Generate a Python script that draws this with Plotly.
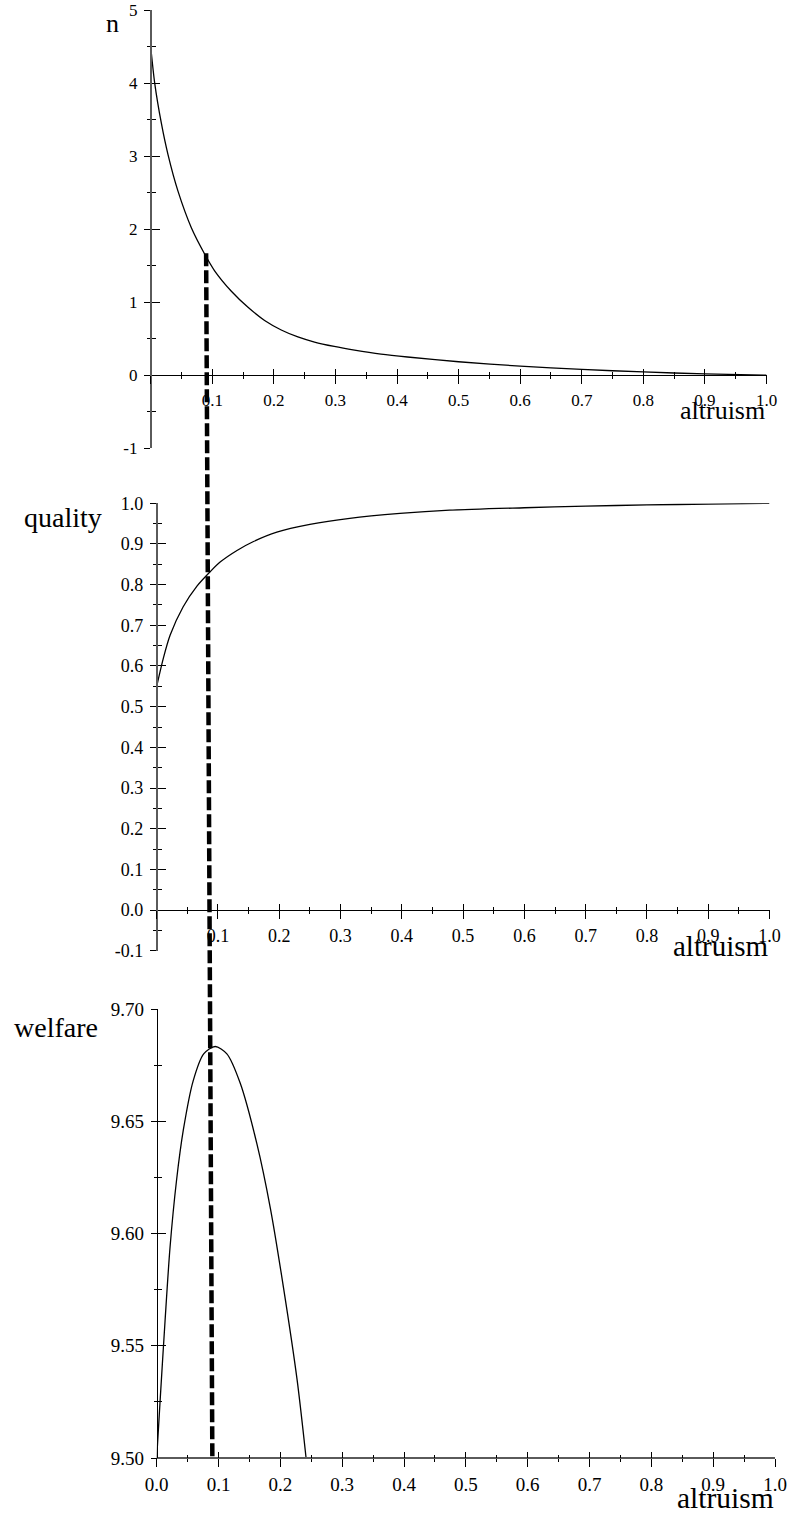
import plotly.graph_objects as go

# ---------------- data ----------------
altruism_n = [0.0, 0.0065, 0.0173, 0.0281, 0.0443, 0.066, 0.0876, 0.1038, 0.131, 0.158,
              0.185, 0.212, 0.239, 0.266, 0.298, 0.331, 0.374, 0.417, 0.5, 0.6,
              0.7, 0.8, 0.9, 1.0]
n_values = [4.5, 4.0, 3.45, 3.02, 2.52, 2.02, 1.66, 1.43, 1.15, 0.93,
            0.75, 0.62, 0.525, 0.455, 0.395, 0.345, 0.29, 0.25, 0.185, 0.125,
            0.08, 0.045, 0.018, 0.0]

altruism_q = [0.0, 0.011, 0.022, 0.043, 0.066, 0.088, 0.104, 0.131, 0.158, 0.196,
              0.25, 0.315, 0.397, 0.478, 0.6, 0.7, 0.8, 0.9, 1.0]
quality_values = [0.55, 0.62, 0.676, 0.745, 0.797, 0.833, 0.856, 0.884, 0.906, 0.929,
                  0.948, 0.963, 0.975, 0.983, 0.989, 0.993, 0.996, 0.998, 1.0]

altruism_w = [0.0, 0.0054, 0.0135, 0.0216, 0.032, 0.043, 0.059, 0.076, 0.0946, 0.1135,
              0.135, 0.162, 0.184, 0.205, 0.227, 0.2416]
welfare_values = [9.50, 9.525, 9.561, 9.594, 9.6235, 9.646, 9.668, 9.680, 9.6833, 9.680,
                  9.667, 9.640, 9.611, 9.576, 9.535, 9.50]

x_tick_vals = [0.0, 0.1, 0.2, 0.3, 0.4, 0.5, 0.6, 0.7, 0.8, 0.9, 1.0]
x_tick_text_top = ["", "0.1", "0.2", "0.3", "0.4", "0.5", "0.6", "0.7", "0.8", "0.9", "1.0"]
x_tick_text_bottom = ["0.0", "0.1", "0.2", "0.3", "0.4", "0.5", "0.6", "0.7", "0.8", "0.9", "1.0"]

n_tick_vals = [-1, 0, 1, 2, 3, 4, 5]
n_tick_text = ["-1", "0", "1", "2", "3", "4", "5"]
q_tick_vals = [-0.1, 0.0, 0.1, 0.2, 0.3, 0.4, 0.5, 0.6, 0.7, 0.8, 0.9, 1.0]
q_tick_text = ["-0.1", "0.0", "0.1", "0.2", "0.3", "0.4", "0.5", "0.6", "0.7", "0.8", "0.9", "1.0"]
w_tick_vals = [9.50, 9.55, 9.60, 9.65, 9.70]
w_tick_text = ["9.50", "9.55", "9.60", "9.65", "9.70"]

cross_altruism = 0.09   # location of the dashed vertical marker
cross_n = 1.67          # where the marker starts on the n curve

y_titles = ["n", "quality", "welfare"]
x_title = "altruism"

# ---------------- layout geometry ----------------
W, H = 790, 1517
FONT = "Liberation Serif, Times New Roman, serif"
GRAY = "#5a5a5a"


def fx(px):
    return px / W


def fy(py):
    return 1 - py / H


panels = [
    dict(xl=150.7, xr=766.5, yt=10.0, yb=448.3, yrange=[-1, 5], xat=0.0,
         ymin_d=0.5, ymin_0=0.0, tv=n_tick_vals, tt=n_tick_text, xtt=x_tick_text_top,
         fs=17, x=altruism_n, y=n_values,
         xline=("black", 1), yline=(GRAY, 1.6)),
    dict(xl=156.7, xr=769.5, yt=503.3, yb=950.7, yrange=[-0.1, 1.0], xat=0.0,
         ymin_d=0.05, ymin_0=0.0, tv=q_tick_vals, tt=q_tick_text, xtt=x_tick_text_top,
         fs=18, x=altruism_q, y=quality_values,
         xline=("black", 1), yline=(GRAY, 1.6)),
    dict(xl=156.7, xr=775.0, yt=1009.0, yb=1458.0, yrange=[9.50, 9.70], xat=9.50,
         ymin_d=0.025, ymin_0=9.50, tv=w_tick_vals, tt=w_tick_text, xtt=x_tick_text_bottom,
         fs=19, x=altruism_w, y=welfare_values,
         xline=(GRAY, 1.6), yline=("black", 1)),
]


def akey(p, k):
    return p + "axis" + ("" if k == 1 else str(k))


def aref(p, k):
    return p + ("" if k == 1 else str(k))


fig = go.Figure()
layout = {}
geo = []
for i, P in enumerate(panels):
    km, ko = 2 * i + 1, 2 * i + 2
    xdom = [fx(P["xl"]), fx(P["xr"])]
    ydom = [fy(P["yb"]), fy(P["yt"])]
    yr = P["yrange"]
    xpos = ydom[0] + (P["xat"] - yr[0]) / (yr[1] - yr[0]) * (ydom[1] - ydom[0])
    geo.append((xdom, ydom, yr))
    tf = dict(family=FONT, size=P["fs"], color="black")

    common_x = dict(domain=xdom, range=[0, 1], anchor="free", position=xpos,
                    showgrid=False, zeroline=False, tickmode="array", automargin=False,
                    tickvals=x_tick_vals, tickcolor="black", tickwidth=1, fixedrange=True)
    layout[akey("x", km)] = dict(common_x, showline=True, linecolor=P["xline"][0],
                                  linewidth=P["xline"][1],
                                  ticks="outside", ticklen=8, ticktext=P["xtt"], tickfont=tf,
                                  ticklabelstandoff=1,
                                  minor=dict(ticks="outside", ticklen=3, tickmode="linear",
                                             tick0=0, dtick=0.05, tickcolor="black", tickwidth=1))
    layout[akey("x", ko)] = dict(common_x, overlaying=aref("x", km), showline=False,
                                  ticks="inside", ticklen=6, showticklabels=False,
                                  minor=dict(ticks="inside", ticklen=3, tickmode="linear",
                                             tick0=0, dtick=0.05, tickcolor="black", tickwidth=1))
    common_y = dict(domain=ydom, range=yr, anchor="free", position=xdom[0],
                    showgrid=False, zeroline=False, tickmode="array", tickvals=P["tv"],
                    automargin=False,
                    tickcolor="black", tickwidth=1, fixedrange=True)
    layout[akey("y", km)] = dict(common_y, showline=True, linecolor=P["yline"][0],
                                  linewidth=P["yline"][1],
                                  ticks="outside", ticklen=6, ticktext=P["tt"], tickfont=tf,
                                  ticklabelstandoff=3,
                                  minor=dict(ticks="outside", ticklen=3, tickmode="linear",
                                             tick0=P["ymin_0"], dtick=P["ymin_d"],
                                             tickcolor="black", tickwidth=1))
    layout[akey("y", ko)] = dict(common_y, overlaying=aref("y", km), showline=False,
                                  ticks="inside", ticklen=8, showticklabels=False,
                                  minor=dict(ticks="inside", ticklen=4, tickmode="linear",
                                             tick0=P["ymin_0"], dtick=P["ymin_d"],
                                             tickcolor="black", tickwidth=1))

    fig.add_trace(go.Scatter(x=P["x"], y=P["y"], mode="lines",
                             line=dict(color="black", width=1.3, shape="spline", smoothing=0.8),
                             xaxis=aref("x", km), yaxis=aref("y", km),
                             showlegend=False, hoverinfo="skip"))
    fig.add_trace(go.Scatter(x=[0.5], y=[yr[0]], mode="markers", marker=dict(opacity=0),
                             xaxis=aref("x", ko), yaxis=aref("y", ko),
                             showlegend=False, hoverinfo="skip"))

# dashed marker from the n curve down to the bottom of the welfare panel
(xd1, yd1, yr1), _, (xd3, yd3, yr3) = geo
x_top = xd1[0] + cross_altruism * (xd1[1] - xd1[0])
y_top = yd1[0] + (cross_n - yr1[0]) / (yr1[1] - yr1[0]) * (yd1[1] - yd1[0])
x_bot = xd3[0] + cross_altruism * (xd3[1] - xd3[0])
y_bot = yd3[0]

shapes = [dict(type="line", xref="paper", yref="paper", x0=x_top, y0=y_top, x1=x_bot, y1=y_bot,
               line=dict(color="black", width=4.5, dash="13px,4px"), layer="above")]

# axis titles
ann = []


def add_text(txt, xpx, ypx, size, xanchor):
    ann.append(dict(text=txt, x=fx(xpx), y=fy(ypx), xref="paper", yref="paper",
                    xanchor=xanchor, yanchor="middle", showarrow=False,
                    font=dict(family=FONT, size=size, color="black")))


add_text(y_titles[0], 112, 24, 26, "center")
add_text(y_titles[1], 104, 517, 28, "right")
add_text(y_titles[2], 100, 1027, 28, "right")
add_text(x_title, 767, 411, 26, "right")
add_text(x_title, 770, 946, 29, "right")
add_text(x_title, 776, 1498, 29.5, "right")

fig.update_layout(width=W, height=H,
                  margin=dict(l=0, r=0, t=0, b=0, pad=0, autoexpand=False),
                  paper_bgcolor="white", plot_bgcolor="white",
                  showlegend=False, shapes=shapes, annotations=ann, **layout)

fig.write_html("out.html")
